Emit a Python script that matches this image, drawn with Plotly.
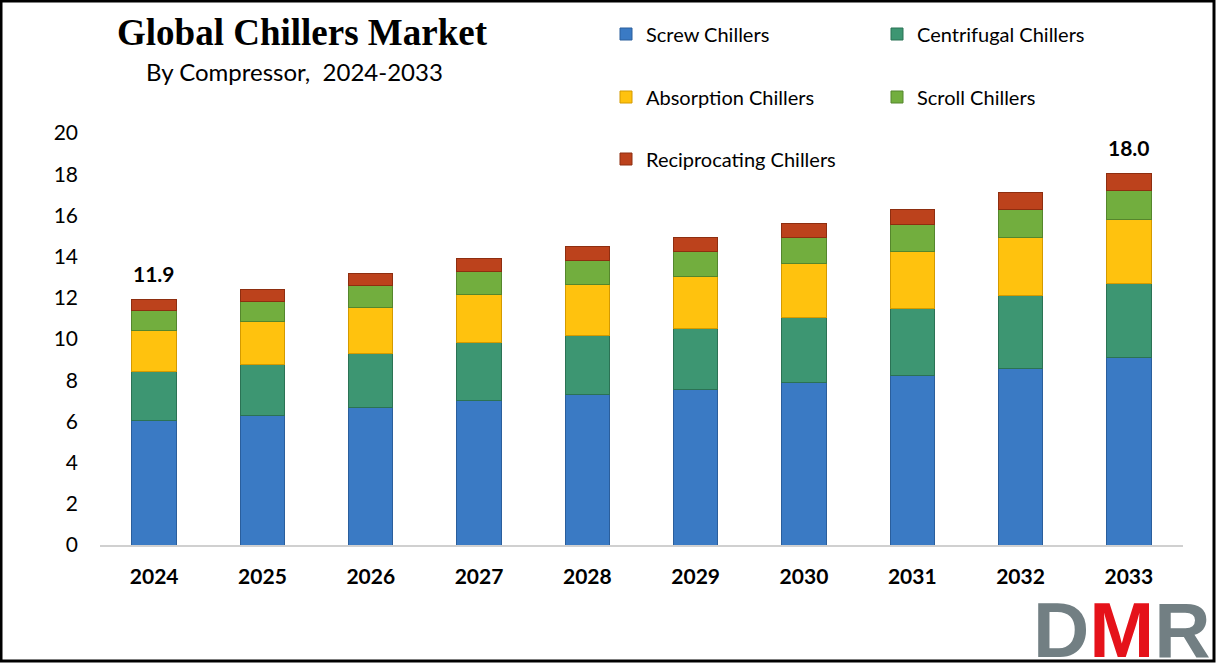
import plotly.graph_objects as go

years = ["2024", "2025", "2026", "2027", "2028", "2029", "2030", "2031", "2032", "2033"]
screw = [6.03, 6.31, 6.68, 7.00, 7.33, 7.56, 7.88, 8.22, 8.58, 9.11]
centrifugal = [2.38, 2.43, 2.63, 2.84, 2.86, 2.96, 3.17, 3.27, 3.51, 3.59]
absorption = [1.99, 2.10, 2.21, 2.33, 2.46, 2.50, 2.62, 2.75, 2.85, 3.08]
scroll = [0.96, 1.00, 1.07, 1.10, 1.18, 1.22, 1.25, 1.33, 1.36, 1.45]
reciprocating = [0.57, 0.57, 0.60, 0.65, 0.68, 0.70, 0.70, 0.74, 0.81, 0.81]
y_ticks = [0, 2, 4, 6, 8, 10, 12, 14, 16, 18, 20]

series = [
    ("Screw Chillers", screw, "#3A7AC4", "#2A5E9C", "legend"),
    ("Centrifugal Chillers", centrifugal, "#3D9672", "#2B7254", "legend"),
    ("Absorption Chillers", absorption, "#FFC20E", "#D49A00", "legend2"),
    ("Scroll Chillers", scroll, "#72AE3E", "#55862C", "legend2"),
    ("Reciprocating Chillers", reciprocating, "#BC421C", "#8E2E10", "legend3"),
]

W, H = 1216, 663
ML, MR, MT, MB = 100, 33, 133, 118
PW, PH = W - ML - MR, H - MT - MB

def px_x(p):
    return (p - ML) / PW

def px_y(p):
    return (H - MB - p) / PH

FONT = "Lato"

fig = go.Figure()
for name, vals, col, line, lg in series:
    fig.add_trace(go.Bar(
        x=years, y=vals, name=name, legend=lg,
        marker=dict(color=col, line=dict(color=line, width=1)),
    ))

totals = [a + b + c + d + e for a, b, c, d, e in zip(screw, centrifugal, absorption, scroll, reciprocating)]
for i in (0, len(years) - 1):
    fig.add_annotation(x=i, y=totals[i], text=f"<b>{totals[i]:.1f}</b>",
                       showarrow=False, yanchor="bottom", yshift=11,
                       font=dict(family=FONT, size=21, color="#000000"))

# Title and subtitle
fig.add_annotation(xref="paper", yref="paper", x=px_x(302), y=px_y(32),
                   text="<b>Global Chillers Market</b>", showarrow=False,
                   xanchor="center", yanchor="middle",
                   font=dict(family="Liberation Serif", size=37, color="#000000"))
fig.add_annotation(xref="paper", yref="paper", x=px_x(294), y=px_y(72),
                   text="By Compressor,  2024-2033", showarrow=False,
                   xanchor="center", yanchor="middle",
                   font=dict(family=FONT, size=24, color="#000000"))

# Logo
fig.add_annotation(xref="paper", yref="paper", x=px_x(1213), y=px_y(630),
                   text="<b><span style='color:#727F83'>D</span><span style='color:#E5121A'>M</span><span style='color:#727F83'>R</span></b>",
                   showarrow=False, xanchor="right", yanchor="middle",
                   font=dict(family="Liberation Sans", size=78))

# Border
fig.add_shape(type="rect", xref="paper", yref="paper",
              x0=px_x(1), x1=px_x(W - 2), y0=px_y(H - 2), y1=px_y(1),
              line=dict(color="#000000", width=3), fillcolor="rgba(0,0,0,0)", layer="above")

legend_common = dict(orientation="h", xanchor="left", yanchor="middle",
                     entrywidth=226, entrywidthmode="pixels",
                     font=dict(family=FONT, size=20, color="#000000"),
                     bgcolor="rgba(0,0,0,0)", traceorder="normal")

fig.update_layout(
    width=W, height=H,
    margin=dict(l=ML, r=MR, t=MT, b=MB, autoexpand=False),
    paper_bgcolor="#FFFFFF", plot_bgcolor="#FFFFFF",
    barmode="stack", bargap=0.59,
    showlegend=True,
    legend=dict(x=px_x(606), y=px_y(34), **legend_common),
    legend2=dict(x=px_x(606), y=px_y(97), **legend_common),
    legend3=dict(x=px_x(606), y=px_y(159), **legend_common),
    xaxis=dict(type="category", range=[-0.5, len(years) - 0.5], showline=True,
               linecolor="#D0D0D0", linewidth=1.5, showgrid=False,
               ticks="", tickfont=dict(family=FONT, size=21, color="#000000", weight="bold"),
               ticklabelstandoff=12),
    yaxis=dict(range=[0, 20], tickvals=y_ticks, showgrid=False, zeroline=False,
               showline=False, ticks="", tickfont=dict(family=FONT, size=21, color="#000000"),
               ticklabelstandoff=21),
)

fig.write_html("out.html", config={"displayModeBar": False},
               post_script="document.body.style.margin='0';document.body.style.overflow='hidden';")
